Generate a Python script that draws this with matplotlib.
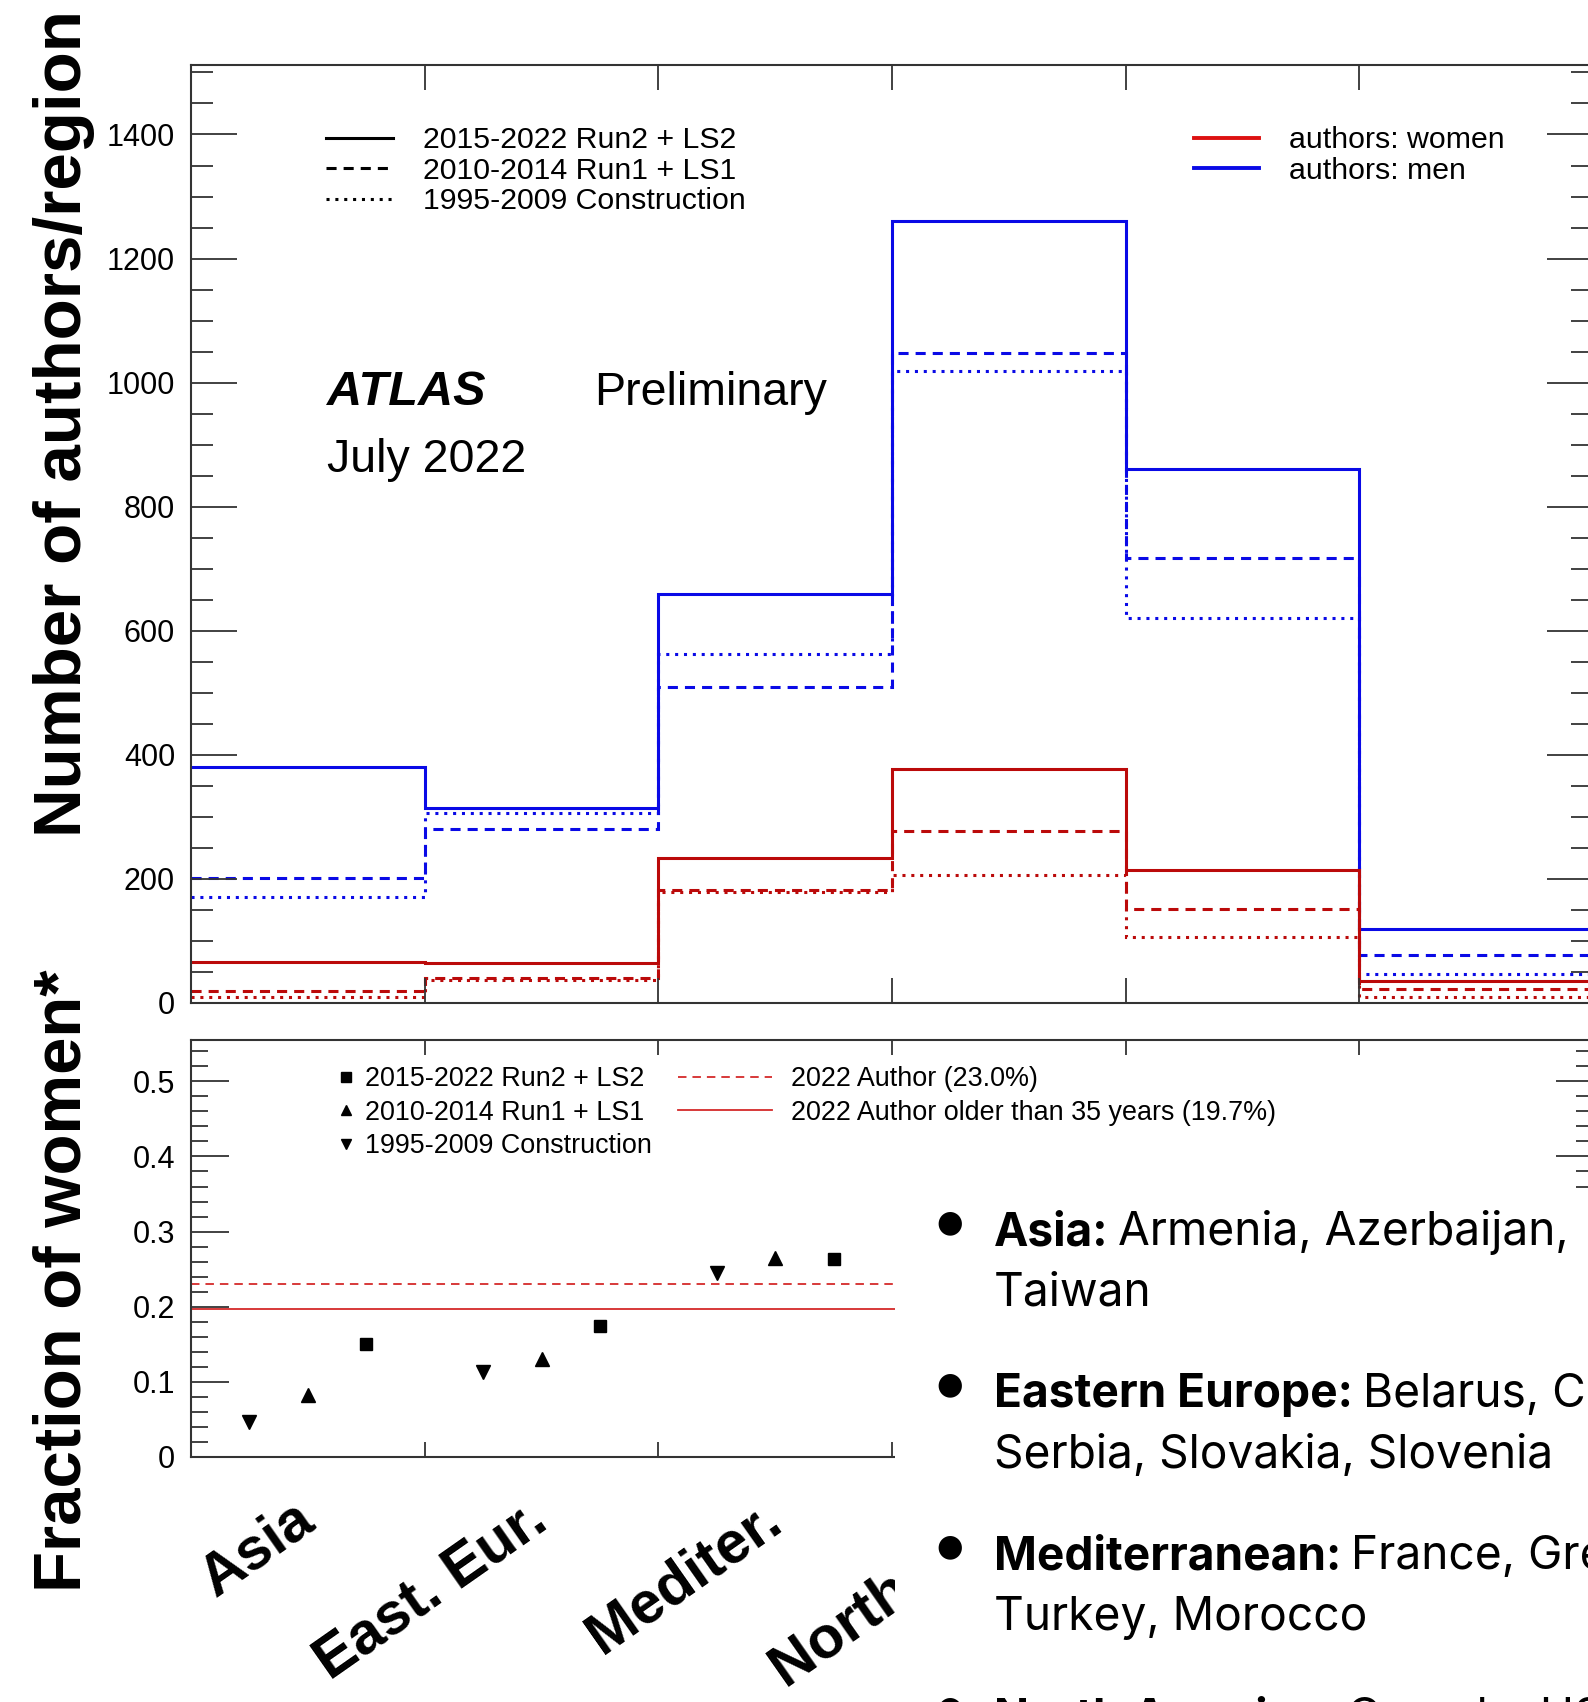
import matplotlib
matplotlib.use("Agg")
import matplotlib.pyplot as plt
import numpy as np
from matplotlib.lines import Line2D
from matplotlib.patches import Rectangle
from matplotlib.ticker import MultipleLocator, FuncFormatter

plt.rcParams['font.family'] = ['Liberation Sans', 'DejaVu Sans']

W, H = 1588, 1702

# regions (bins)
regions = ["Asia", "East. Eur.", "Mediter.", "North Am.", "North. Eur.", "Other"]
edges = np.arange(len(regions) + 1)

# authors per region
men_run2 = [381, 315, 660, 1260, 861, 120]
men_run1 = [202, 281, 510, 1047, 717, 77]
men_constr = [171, 307, 562, 1018, 621, 47]
women_run2 = [66, 65, 234, 377, 214, 35]
women_run1 = [19, 41, 182, 278, 152, 23]
women_constr = [10, 37, 179, 206, 106, 10]

# fraction of women (only the first three regions are visible)
frac_constr = [0.046, 0.113, 0.245]
frac_run1 = [0.082, 0.130, 0.265]
frac_run2 = [0.150, 0.175, 0.264]
frac_author_2022 = 0.230
frac_over35_2022 = 0.197

period_labels = ["2015-2022 Run2 + LS2", "2010-2014 Run1 + LS1", "1995-2009 Construction"]
ref_labels = ["2022 Author (23.0%)", "2022 Author older than 35 years (19.7%)"]

bullets = [
    ("Asia:", ["Armenia, Azerbaijan,  China, Georgia, Japan,", "Taiwan"]),
    ("Eastern Europe:", ["Belarus, Czech Republic, Poland, Romania,", "Serbia, Slovakia, Slovenia"]),
    ("Mediterranean:", ["France, Greece, Israel, Italy, Portugal, Spain,", "Turkey, Morocco"]),
    ("North America:", ["Canada, USA", ""]),
]

BLUE = '#0a0ae6'
RED = '#bb0a0a'
LRED = '#d42a2a'
FRAME = '#333333'
dash = (0, (3.3, 2.3))
dot = (0, (1.0, 1.9))
TXT = 'Inter'


def fx(px):
    return px / W


def fy(py):
    return 1 - py / H


fig = plt.figure(figsize=(W / 100, H / 100), dpi=100)
ax1 = fig.add_axes([fx(191), fy(1003), (1593 - 191) / W, (1003 - 65) / H])
ax2 = fig.add_axes([fx(191), fy(1457), (1593 - 191) / W, (1457 - 1040) / H])

for ax in (ax1, ax2):
    for sp in ax.spines.values():
        sp.set_color(FRAME)
        sp.set_linewidth(1.5)
    ax.set_xlim(0, len(regions))
    ax.set_xticks(edges[1:-1])
    ax.tick_params(axis='x', which='both', direction='in', top=True, bottom=True,
                   labelbottom=False, color=FRAME, width=1.3)
    ax.tick_params(axis='y', which='both', direction='in', left=True, right=True,
                   color=FRAME, width=1.3, labelsize=22, pad=11.5)

# --- top panel: number of authors ---
ax1.stairs(men_run2, edges, baseline=None, color=BLUE, lw=2.2)
ax1.stairs(men_run1, edges, baseline=None, color=BLUE, lw=2.2, ls=dash)
ax1.stairs(men_constr, edges, baseline=None, color=BLUE, lw=2.2, ls=dot)
ax1.stairs(women_run2, edges, baseline=None, color=RED, lw=2.2)
ax1.stairs(women_run1, edges, baseline=None, color=RED, lw=2.2, ls=dash)
ax1.stairs(women_constr, edges, baseline=None, color=RED, lw=2.2, ls=dot)

ax1.set_ylim(0, 1512)
ax1.yaxis.set_major_locator(MultipleLocator(200))
ax1.yaxis.set_minor_locator(MultipleLocator(50))
ax1.tick_params(axis='y', which='major', length=33)
ax1.tick_params(axis='y', which='minor', length=16)
ax1.tick_params(axis='x', length=18)

fig.text(fx(327), fy(405), "ATLAS", fontsize=35, fontweight='bold', style='italic')
fig.text(fx(594), fy(405), "Preliminary", fontsize=33.5)
fig.text(fx(327), fy(472), "July 2022", fontsize=33.5)

period_handles = [Line2D([], [], color='black', lw=2.2, ls=s) for s in ('-', dash, dot)]
fig.legend(handles=period_handles, labels=period_labels, loc='upper left',
           bbox_to_anchor=(fx(326), fy(126.5)), frameon=False, fontsize=21.8,
           borderpad=0, borderaxespad=0, handlelength=2.2, handletextpad=0.99,
           labelspacing=0.08)
sex_handles = [Line2D([], [], color='#dd1111', lw=2.8), Line2D([], [], color=BLUE, lw=2.8)]
fig.legend(handles=sex_handles, labels=["authors: women", "authors: men"], loc='upper left',
           bbox_to_anchor=(fx(1194), fy(126.5)), frameon=False, fontsize=21.8,
           borderpad=0, borderaxespad=0, handlelength=2.14, handletextpad=0.99,
           labelspacing=0.08)

# --- bottom panel: fraction of women ---
xs = np.arange(len(frac_run2))
ax2.plot(xs + 0.25, frac_constr, 'v', color='black', ms=10, ls='none')
ax2.plot(xs + 0.5, frac_run1, '^', color='black', ms=10, ls='none')
ax2.plot(xs + 0.75, frac_run2, 's', color='black', ms=9, ls='none')
ax2.axhline(frac_author_2022, color=LRED, lw=1.3, ls=(0, (4.7, 3.3)))
ax2.axhline(frac_over35_2022, color=LRED, lw=1.3)

ax2.set_ylim(0, 0.555)
ax2.yaxis.set_major_locator(MultipleLocator(0.1))
ax2.yaxis.set_minor_locator(MultipleLocator(0.02))
ax2.yaxis.set_major_formatter(FuncFormatter(lambda v, _: f"{v:g}"))
ax2.tick_params(axis='y', which='major', length=27)
ax2.tick_params(axis='y', which='minor', length=12)
ax2.tick_params(axis='x', length=11)

for i, name in enumerate(regions):
    ax2.text(i + 0.568, -0.082, name, transform=ax2.get_xaxis_transform(),
             rotation=35, ha='right', va='top', fontsize=42.5, fontweight='bold')

marker_handles = [Line2D([], [], color='black', marker=m, ms=7, ls='none') for m in ('s', '^', 'v')]
fig.legend(handles=marker_handles, labels=period_labels, loc='upper left',
           bbox_to_anchor=(fx(337), fy(1066.3)), frameon=False, fontsize=19.4,
           borderpad=0, borderaxespad=0, handlelength=0.7, handletextpad=0.35,
           labelspacing=0.28, numpoints=1)
ref_handles = [Line2D([], [], color=LRED, lw=1.3, ls=(0, (4.7, 3.3))),
               Line2D([], [], color=LRED, lw=1.3)]
fig.legend(handles=ref_handles, labels=ref_labels, loc='upper left',
           bbox_to_anchor=(fx(678), fy(1066.3)), frameon=False, fontsize=19.4,
           borderpad=0, borderaxespad=0, handlelength=3.5, handletextpad=0.7,
           labelspacing=0.28)

fig.text(fx(81), fy(424), "Number of authors/region", rotation=90, rotation_mode='anchor',
         ha='center', va='baseline', fontsize=48.5, fontweight='bold')
fig.text(fx(81), fy(1281), "Fraction of women*", rotation=90, rotation_mode='anchor',
         ha='center', va='baseline', fontsize=48.3, fontweight='bold')

# --- white text box with the region definitions ---
fig.add_artist(Rectangle((fx(895), 0), 1.0, fy(1188), transform=fig.transFigure,
                         facecolor='white', edgecolor='none', zorder=10))
renderer = fig.canvas.get_renderer()
for k, (head, lines) in enumerate(bullets):
    base = 1245 + k * 162
    fig.text(fx(950), fy(base - 22), "\u25cf", ha='center', va='center', fontsize=22,
             family='DejaVu Sans', zorder=11)
    t = fig.text(fx(994), fy(base), head, fontsize=33.2, fontweight='bold',
                 family=TXT, zorder=11)
    x1 = t.get_window_extent(renderer).x1
    fig.text((x1 + 10) / W, fy(base), lines[0], fontsize=33.2, family=TXT, zorder=11)
    fig.text(fx(994), fy(base + 61), lines[1], fontsize=33.2, family=TXT, zorder=11)

fig.savefig("out.png", dpi=100)
